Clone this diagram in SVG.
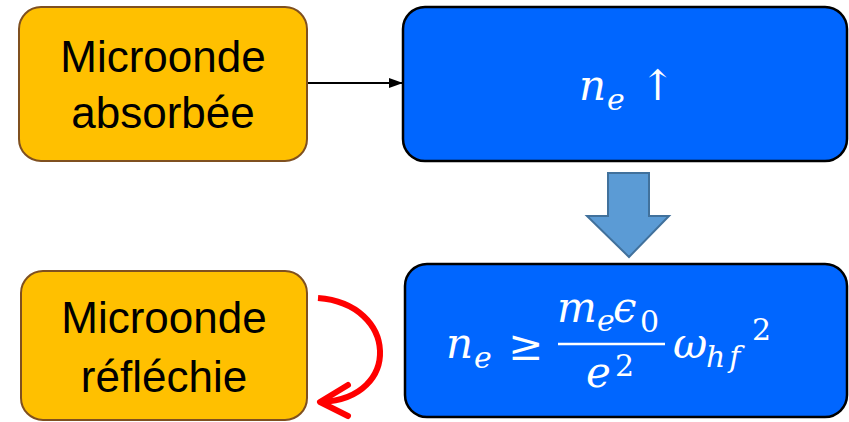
<svg xmlns="http://www.w3.org/2000/svg" width="849" height="422" viewBox="0 0 849 422">
<style>
.orange{fill:#FFC000;stroke:#7F5020;stroke-width:2}
.blue{fill:#0066FF;stroke:#000;stroke-width:2.5}
.lbl{font-family:"Liberation Sans","DejaVu Sans",sans-serif;font-size:44px;fill:#000;text-anchor:middle}
.m{font-family:"DejaVu Serif","Liberation Serif",serif;font-style:italic;fill:#fff;font-size:42px}
.s{font-size:30px}
.u{font-style:normal}
</style>
<defs>
<marker id="ah" markerWidth="14" markerHeight="10" refX="14" refY="5" orient="auto" markerUnits="userSpaceOnUse">
<path d="M0,0 L14,5 L0,10 Z" fill="#000"/>
</marker>
</defs>
<g id="connectors">
<line x1="307" y1="83" x2="403" y2="83" stroke="#000" stroke-width="2" marker-end="url(#ah)"/>
<path d="M608,173 H649 V216 H669 L629,257 L587,216 H608 Z" fill="#5B9BD5" stroke="#41719C" stroke-width="2"/>
<path d="M318,298 C398,304 402,398 322,402" fill="none" stroke="#FF0000" stroke-width="6"/>
<path d="M348,385 L320,402 L348,416" fill="none" stroke="#FF0000" stroke-width="6" stroke-linecap="round" stroke-linejoin="round"/>
</g>
<g id="absorbee">
<rect class="orange" x="19" y="7" width="288" height="154" rx="22"/>
<text class="lbl" x="163" y="72">Microonde</text>
<text class="lbl" x="163" y="128">absorbée</text>
</g>
<g id="ne-up">
<rect class="blue" x="403" y="7" width="444" height="154" rx="22"/>
<text class="m" x="579" y="100">n</text>
<text class="m s" x="607" y="110">e</text>
<text class="m u" x="640" y="100" font-size="46">↑</text>
</g>
<g id="reflechie">
<rect class="orange" x="21" y="271" width="286" height="149" rx="22"/>
<text class="lbl" x="164" y="333">Microonde</text>
<text class="lbl" x="164" y="392">réfléchie</text>
</g>
<g id="condition">
<rect class="blue" x="405" y="264" width="442" height="153" rx="22"/>
<text class="m" x="446" y="358">n</text>
<text class="m s" x="474" y="368">e</text>
<text class="m u" x="508" y="360" font-size="50">≥</text>
<text class="m" x="557" y="322">m</text>
<text class="m s" x="597" y="331">e</text>
<text class="m" x="613" y="322">ϵ</text>
<text class="m s u" x="640" y="332">0</text>
<line x1="558" y1="344" x2="665" y2="344" stroke="#fff" stroke-width="2.5"/>
<text class="m" x="586" y="387">e</text>
<text class="m s u" x="615" y="376">2</text>
<text class="m" x="673" y="358">ω</text>
<text class="m s" x="706" y="367" letter-spacing="4">hf</text>
<text class="m s u" x="752" y="340">2</text>
</g>
</svg>
